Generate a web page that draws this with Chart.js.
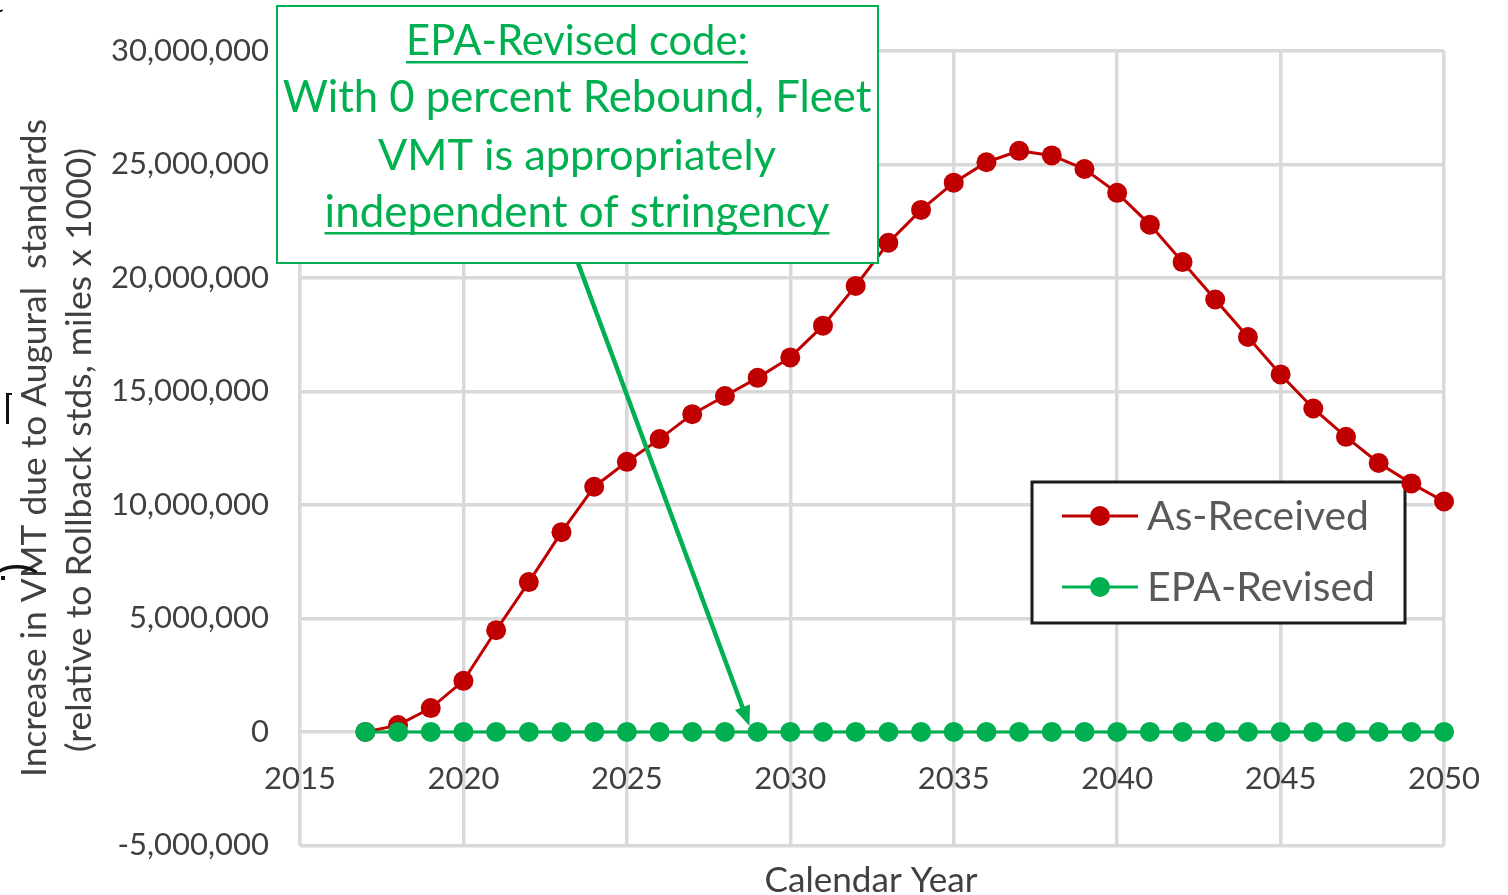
<!DOCTYPE html>
<html>
<head>
<meta charset="utf-8">
<script src="https://cdn.jsdelivr.net/npm/chart.js@4.4.1/dist/chart.umd.min.js"></script>
<style>
  html, body { margin: 0; padding: 0; background: #fff; }
  #wrap { width: 1508px; height: 895px; position: relative; }
</style>
</head>
<body>
<div id="wrap"><canvas id="vmtChart"></canvas></div>
<script>
// data (miles x 1000)
const years = [2017, 2018, 2019, 2020, 2021, 2022, 2023, 2024, 2025, 2026,
               2027, 2028, 2029, 2030, 2031, 2032, 2033, 2034, 2035, 2036,
               2037, 2038, 2039, 2040, 2041, 2042, 2043, 2044, 2045, 2046,
               2047, 2048, 2049, 2050];
const asReceived = [0, 300000, 1050000, 2250000, 4480000, 6600000, 8800000, 10800000, 11900000, 12900000,
                    14000000, 14800000, 15600000, 16500000, 17900000, 19650000, 21550000, 23000000, 24200000, 25100000,
                    25600000, 25400000, 24800000, 23750000, 22350000, 20700000, 19050000, 17400000, 15750000, 14250000,
                    13000000, 11850000, 10950000, 10150000];
const epaRevised = [0, 0, 0, 0, 0, 0, 0, 0, 0, 0,
                    0, 0, 0, 0, 0, 0, 0, 0, 0, 0,
                    0, 0, 0, 0, 0, 0, 0, 0, 0, 0,
                    0, 0, 0, 0];
const xTicks = [2015, 2020, 2025, 2030, 2035, 2040, 2045, 2050];
const yTicks = [-5000000, 0, 5000000, 10000000, 15000000, 20000000, 25000000, 30000000];
const seriesNames = ['As-Received', 'EPA-Revised'];
const noteLines = ['EPA-Revised code:', 'With 0 percent Rebound, Fleet', 'VMT is appropriately', 'independent of stringency'];

const FONT = 'Lato, "Open Sans", sans-serif';
const RED = '#C00000';
const GREEN = '#00B050';
const GREY = '#595959';
const DARK = '#404040';

function toPoints(vals) {
  return years.map((yr, i) => ({ x: yr, y: vals[i] }));
}

// font size that makes text this wide
function fitSize(ctx, text, width) {
  ctx.font = '100px ' + FONT;
  return 100 * width / ctx.measureText(text).width;
}

function centerText(ctx, text, cx, cy, width, color, underline) {
  const size = fitSize(ctx, text, width);
  ctx.font = size + 'px ' + FONT;
  ctx.fillStyle = color;
  ctx.textAlign = 'center';
  ctx.textBaseline = 'middle';
  ctx.fillText(text, cx, cy);
  if (underline) {
    ctx.fillRect(cx - width / 2, underline, width, 2.5);
  }
}

const extras = {
  id: 'extras',
  beforeDatasetsDraw(chart) {
    // legend box, sits over grid but under the lines
    const ctx = chart.ctx;
    const colors = [RED, GREEN];
    ctx.save();
    ctx.fillStyle = '#fff';
    ctx.fillRect(1032, 482, 373, 141);
    ctx.strokeStyle = '#1a1a1a';
    ctx.lineWidth = 3;
    ctx.strokeRect(1032, 482, 373, 141);
    const rows = [516, 587];
    const widths = [222, 228];
    seriesNames.forEach((name, i) => {
      ctx.strokeStyle = colors[i];
      ctx.lineWidth = 3;
      ctx.beginPath();
      ctx.moveTo(1062, rows[i]);
      ctx.lineTo(1138, rows[i]);
      ctx.stroke();
      ctx.fillStyle = colors[i];
      ctx.beginPath();
      ctx.arc(1100, rows[i], 10, 0, Math.PI * 2);
      ctx.fill();
      const size = fitSize(ctx, name, widths[i]);
      ctx.font = size + 'px ' + FONT;
      ctx.fillStyle = GREY;
      ctx.textAlign = 'left';
      ctx.textBaseline = 'middle';
      ctx.fillText(name, 1147, rows[i] + 1);
    });
    ctx.restore();
  },
  afterDraw(chart) {
    const ctx = chart.ctx;
    const xs = chart.scales.x, ys = chart.scales.y;
    ctx.save();

    // note box
    ctx.fillStyle = '#fff';
    ctx.fillRect(277, 6, 601, 257);
    ctx.strokeStyle = GREEN;
    ctx.lineWidth = 2;
    ctx.strokeRect(277, 6, 601, 257);
    centerText(ctx, noteLines[0], 577, 42, 342, GREEN, 61);
    centerText(ctx, noteLines[1], 577, 98, 589, GREEN);
    centerText(ctx, noteLines[2], 577, 156, 398, GREEN);
    centerText(ctx, noteLines[3], 577, 213, 505, GREEN, 232);

    // arrow to the zero line
    const sx = 578, sy = 263;
    const tx = xs.getPixelForValue(2028.75), ty = ys.getPixelForValue(0) - 6;
    const ang = Math.atan2(ty - sy, tx - sx);
    ctx.strokeStyle = GREEN;
    ctx.lineWidth = 4.5;
    ctx.beginPath();
    ctx.moveTo(sx, sy);
    ctx.lineTo(tx - 16 * Math.cos(ang), ty - 16 * Math.sin(ang));
    ctx.stroke();
    ctx.fillStyle = GREEN;
    ctx.beginPath();
    ctx.moveTo(tx, ty);
    ctx.lineTo(tx - 20 * Math.cos(ang) + 8 * Math.sin(ang), ty - 20 * Math.sin(ang) - 8 * Math.cos(ang));
    ctx.lineTo(tx - 20 * Math.cos(ang) - 8 * Math.sin(ang), ty - 20 * Math.sin(ang) + 8 * Math.cos(ang));
    ctx.closePath();
    ctx.fill();

    // axis titles
    ctx.save();
    ctx.translate(35, 448);
    ctx.rotate(-Math.PI / 2);
    centerText(ctx, 'Increase in VMT due to Augural  standards', 0, 0, 658, DARK);
    ctx.restore();
    ctx.save();
    ctx.translate(80, 450);
    ctx.rotate(-Math.PI / 2);
    centerText(ctx, '(relative to Rollback stds, miles x 1000)', 0, 0, 604, DARK);
    ctx.restore();
    centerText(ctx, 'Calendar Year', 871, 881, 213, DARK);

    // cropped bits at the left edge of the original slide
    ctx.fillStyle = '#111';
    ctx.font = '26px ' + FONT;
    ctx.textAlign = 'left';
    ctx.textBaseline = 'middle';
    ctx.fillText('t', -6, 4);
    ctx.fillRect(6, 393, 3, 31);
    ctx.fillRect(6, 393, 6, 2);
    ctx.fillRect(1, 576, 4, 4);
    ctx.save();
    ctx.translate(17, 569);
    ctx.rotate(-Math.PI / 2);
    ctx.font = '44px ' + FONT;
    ctx.textAlign = 'center';
    ctx.fillText(')', 0, 0);
    ctx.restore();

    ctx.restore();
  }
};

new Chart(document.getElementById('vmtChart'), {
  type: 'line',
  data: {
    datasets: [
      {
        label: seriesNames[0],
        data: toPoints(asReceived),
        borderColor: RED,
        backgroundColor: RED,
        borderWidth: 3,
        pointRadius: 10,
        pointHoverRadius: 10,
        pointBorderWidth: 0,
        tension: 0,
        clip: false,
        order: 1
      },
      {
        label: seriesNames[1],
        data: toPoints(epaRevised),
        borderColor: GREEN,
        backgroundColor: GREEN,
        borderWidth: 3,
        pointRadius: 10,
        pointHoverRadius: 10,
        pointBorderWidth: 0,
        tension: 0,
        clip: false,
        order: 0
      }
    ]
  },
  options: {
    responsive: true,
    maintainAspectRatio: false,
    animation: false,
    layout: { padding: { left: 0, top: 51, right: 61, bottom: 44 } },
    plugins: {
      legend: { display: false },
      tooltip: { enabled: false }
    },
    scales: {
      x: {
        type: 'linear',
        position: { y: 0 },
        min: 2015,
        max: 2050,
        afterBuildTicks: s => { s.ticks = xTicks.map(v => ({ value: v })); },
        grid: { color: '#d9d9d9', lineWidth: 3.5, drawTicks: false },
        border: { display: false },
        ticks: {
          padding: 28,
          color: DARK,
          font: { family: FONT, size: 31 },
          maxRotation: 0,
          callback: v => String(v)
        }
      },
      y: {
        type: 'linear',
        min: -5000000,
        max: 30000000,
        afterBuildTicks: s => { s.ticks = yTicks.map(v => ({ value: v })); },
        afterFit: s => { s.width = 300; },
        grid: { color: '#d9d9d9', lineWidth: 3.5, drawTicks: false },
        border: { display: false },
        ticks: {
          padding: 31,
          color: DARK,
          font: { family: FONT, size: 31 },
          callback: v => v.toLocaleString('en-US')
        }
      }
    }
  },
  plugins: [extras]
});
</script>
</body>
</html>
